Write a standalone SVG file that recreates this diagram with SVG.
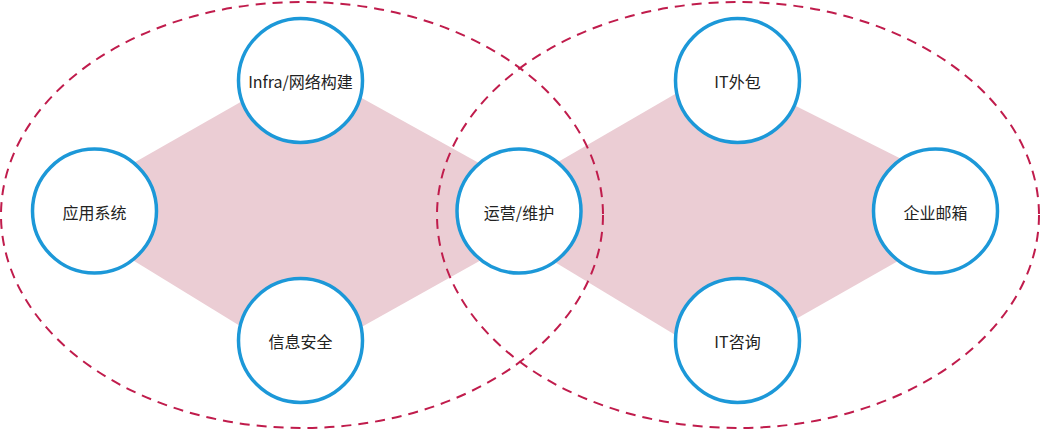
<svg xmlns="http://www.w3.org/2000/svg" width="1040" height="430" viewBox="0 0 1040 430">
<style>
.bg{fill:#ffffff}
.band{fill:#ebcdd4;stroke:none}
.ring{fill:none;stroke:#c01c4c;stroke-width:2;stroke-dasharray:10 7}
.node circle{fill:#ffffff;stroke:#1c98d8;stroke-width:3.5}
.node text{font-family:"Noto Sans CJK SC","Noto Sans",sans-serif;font-size:16px;fill:#222222;text-anchor:middle}
</style>
<rect class="bg" x="0" y="0" width="1040" height="430"/>
<g id="bands">
<polygon class="band" points="51,210 304,66 567,212 299,362"/>
<polygon class="band" points="472,212 720,68 995,206 720,362"/>
</g>
<g id="connectors">
<ellipse class="ring" cx="302" cy="215" rx="301" ry="213"/>
<ellipse class="ring" cx="738" cy="215" rx="301" ry="213"/>
</g>
<g id="node-yingyong" class="node"><circle cx="94.5" cy="211" r="62"/><text x="94.5" y="219">应用系统</text></g>
<g id="node-infra" class="node"><circle cx="300.5" cy="80.5" r="62"/><text x="300.5" y="88">Infra/网络构建</text></g>
<g id="node-xinxi" class="node"><circle cx="300.5" cy="340.5" r="62"/><text x="300.5" y="348">信息安全</text></g>
<g id="node-yunying" class="node"><circle cx="519" cy="211" r="62"/><text x="519" y="219">运营/维护</text></g>
<g id="node-itwaibao" class="node"><circle cx="737.5" cy="80.5" r="62"/><text x="737.5" y="88">IT外包</text></g>
<g id="node-youxiang" class="node"><circle cx="935.5" cy="211" r="62"/><text x="935.5" y="219">企业邮箱</text></g>
<g id="node-itzixun" class="node"><circle cx="737.5" cy="340.5" r="62"/><text x="737.5" y="348">IT咨询</text></g>
</svg>
